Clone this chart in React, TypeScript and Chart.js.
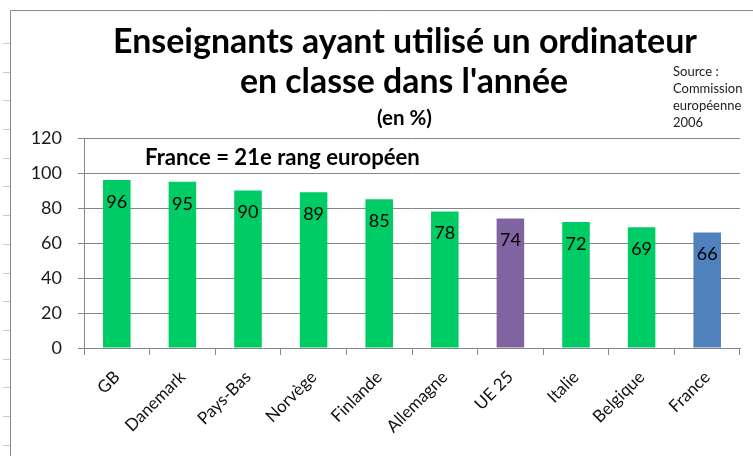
import React, { useEffect, useRef } from "react";
import { Chart, registerables } from "chart.js";

Chart.register(...registerables);

const categories = ["GB", "Danemark", "Pays-Bas", "Norvège", "Finlande", "Allemagne", "UE 25", "Italie", "Belgique", "France"];
const values = [96, 95, 90, 89, 85, 78, 74, 72, 69, 66];
const barColors = ["#00CC66", "#00CC66", "#00CC66", "#00CC66", "#00CC66", "#00CC66", "#8064A2", "#00CC66", "#00CC66", "#4F81BD"];
const titleLines = ["Enseignants ayant utilisé un ordinateur", "en classe dans l'année"];
const subtitle = "(en %)";
const sourceLines = ["Source :", "Commission", "européenne", "2006"];
const annotation = "France = 21e rang européen";

const FONT = "Lato, 'Open Sans', sans-serif";

function fitFont(ctx: CanvasRenderingContext2D, text: string, weight: string, target: number) {
  ctx.font = `${weight} 20px ${FONT}`;
  const w = ctx.measureText(text).width;
  const size = (20 * target) / w;
  ctx.font = `${weight} ${size.toFixed(2)}px ${FONT}`;
}

const decor = {
  id: "decor",
  beforeDraw(chart: any) {
    const ctx = chart.ctx;
    ctx.save();
    ctx.fillStyle = "#ffffff";
    ctx.fillRect(0, 0, chart.width, chart.height);
    ctx.strokeStyle = "#8a8a8a";
    ctx.lineWidth = 1;
    ctx.beginPath();
    ctx.moveTo(10.5, chart.height);
    ctx.lineTo(10.5, 10.5);
    ctx.lineTo(chart.width, 10.5);
    ctx.stroke();
    ctx.strokeStyle = "#c8c8c8";
    ctx.beginPath();
    for (let y = 43; y < chart.height; y += 28.7) {
      ctx.moveTo(3, Math.round(y) + 0.5);
      ctx.lineTo(10, Math.round(y) + 0.5);
    }
    ctx.stroke();
    ctx.restore();
  },
  afterDraw(chart: any) {
    const ctx = chart.ctx;
    ctx.save();
    ctx.fillStyle = "#000000";
    ctx.textAlign = "center";
    ctx.textBaseline = "middle";
    fitFont(ctx, titleLines[0], "bold", 584);
    ctx.fillText(titleLines[0], 405, 42);
    fitFont(ctx, titleLines[1], "bold", 328);
    ctx.fillText(titleLines[1], 404, 82);
    fitFont(ctx, subtitle, "bold", 55);
    ctx.fillText(subtitle, 404.5, 118);
    fitFont(ctx, annotation, "bold", 275);
    ctx.textAlign = "left";
    ctx.fillText(annotation, 145, 158);
    ctx.font = `13px ${FONT}`;
    ctx.fillStyle = "#222222";
    sourceLines.forEach((l, i) => ctx.fillText(l, 673, 72 + i * 17));
    // data labels
    ctx.fillStyle = "#000000";
    ctx.textAlign = "center";
    ctx.font = `18px ${FONT}`;
    const meta = chart.getDatasetMeta(0);
    meta.data.forEach((bar: any, i: number) => {
      ctx.fillText(String(values[i]), bar.x, bar.y + 22);
    });
    ctx.restore();
  },
};

export default function App() {
  const ref = useRef<HTMLCanvasElement>(null);
  useEffect(() => {
    document.body.style.margin = "0";
    const chart = new Chart(ref.current!, {
      type: "bar",
      data: {
        labels: categories,
        datasets: [
          {
            data: values,
            backgroundColor: barColors,
            categoryPercentage: 1,
            barPercentage: 0.42,
          },
        ],
      },
      options: {
        animation: false,
        responsive: false,
        layout: { padding: { top: 138, right: 13, left: 0, bottom: 0 } },
        plugins: { legend: { display: false }, tooltip: { enabled: false } },
        scales: {
          x: {
            afterFit: (s: any) => { s.height = 108; },
            grid: { drawOnChartArea: false, drawTicks: true, tickLength: 7, color: "#868686", offset: true },
            border: { color: "#868686" },
            ticks: {
              color: "#111111",
              font: { family: FONT, size: 17 },
              minRotation: 45,
              maxRotation: 45,
              padding: 12,
            },
          },
          y: {
            min: 0,
            max: 120,
            afterFit: (s: any) => { s.width = 84; },
            ticks: { stepSize: 20, color: "#1a1a1a", font: { family: FONT, size: 18 }, padding: 16 },
            grid: { color: "#868686", tickLength: 6 },
            border: { color: "#868686" },
          },
        },
      },
      plugins: [decor],
    });
    return () => chart.destroy();
  }, []);
  return <canvas ref={ref} width={753} height={456} style={{ display: "block" }} />;
}
